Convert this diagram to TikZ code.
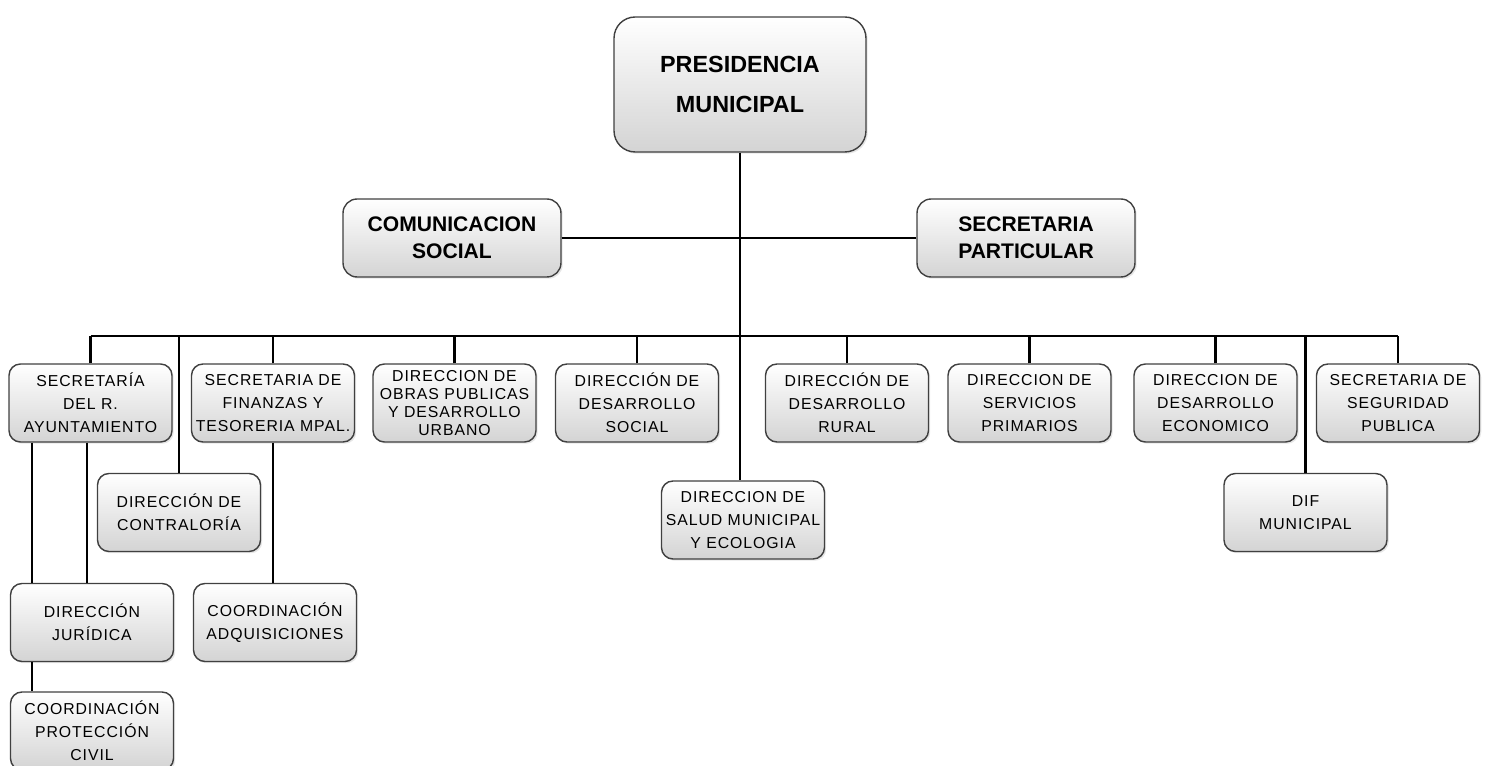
\documentclass[tikz,border=0pt]{standalone}
\usepackage{fontspec}
\setmainfont{Liberation Sans}
\newfontfamily\orgfont{Liberation Sans}[LetterSpace=6]
\usetikzlibrary{shadows,positioning}

\begin{document}
\begin{tikzpicture}[x=0.02cm,y=-0.02cm,
  unit/.style={draw=black!75,line width=0.8pt,rounded corners=6.5pt,
    top color=white,bottom color=black!17,
    drop shadow={shadow xshift=1pt,shadow yshift=-1pt,opacity=0.2},
    align=center,inner sep=1pt,minimum width=3.26cm,minimum height=1.56cm,
    font=\orgfont\fontsize{9}{13}\selectfont},
  head/.style={unit,rounded corners=8pt,minimum width=4.36cm,
    font=\bfseries\fontsize{12}{15.4}\selectfont},
  link/.style={line width=1.6pt}]
  \useasboundingbox (0,0) rectangle (1489,766);

  % top levels
  \node[head,minimum width=5.04cm,minimum height=2.7cm,rounded corners=12pt,
    font=\bfseries\fontsize{13.3}{23}\selectfont] (pres) at (740,84.5)
    {PRESIDENCIA\\MUNICIPAL};
  \node[head] (com) at (452,238) {COMUNICACION\\SOCIAL};
  \node[head] (sec) at (1026,238) {SECRETARIA\\PARTICULAR};

  % direcciones
  \node[unit] (sr)  at (90.5,403)  {SECRETARÍA\\DEL R.\\AYUNTAMIENTO};
  \node[unit] (fin) at (273,403)   {SECRETARIA DE\\FINANZAS Y\\TESORERIA MPAL.};
  \node[unit,font=\orgfont\fontsize{9}{10.3}\selectfont] (obr) at (454.5,403)
    {DIRECCION DE\\OBRAS PUBLICAS\\Y DESARROLLO\\URBANO};
  \node[unit] (soc) at (637,403)   {DIRECCIÓN DE\\DESARROLLO\\SOCIAL};
  \node[unit] (rur) at (847,403)   {DIRECCIÓN DE\\DESARROLLO\\RURAL};
  \node[unit] (ser) at (1029.5,403) {DIRECCION DE\\SERVICIOS\\PRIMARIOS};
  \node[unit] (eco) at (1215.5,403) {DIRECCION DE\\DESARROLLO\\ECONOMICO};
  \node[unit] (seg) at (1398,403)  {SECRETARIA DE\\SEGURIDAD\\PUBLICA};

  \node[unit] (con) at (179,512.5)  {DIRECCIÓN DE\\CONTRALORÍA};
  \node[unit] (sal) at (743,520)    {DIRECCION DE\\SALUD MUNICIPAL\\Y ECOLOGIA};
  \node[unit] (dif) at (1305.5,512.5) {DIF\\MUNICIPAL};

  \node[unit] (jur) at (92,622.5)  {DIRECCIÓN\\JURÍDICA};
  \node[unit] (adq) at (275,622.5) {COORDINACIÓN\\ADQUISICIONES};
  \node[unit] (civ) at (92,731)    {COORDINACIÓN\\PROTECCIÓN\\CIVIL};

  % lines
  \coordinate (bus) at (0,336);
  \draw[link] (pres.south) -- (pres.south |- sal.north);
  \draw[link] (com.east) -- (sec.west);
  \draw[link] (sr.north |- bus) -- (seg.north |- bus);
  \foreach \n in {sr,fin,obr,soc,rur,ser,eco,seg,con,dif}
    \draw[link] (\n.north) -- (\n.north |- bus);

  \coordinate (jl) at ([xshift=-1.17cm]sr.south);
  \coordinate (jr) at ([xshift=-0.07cm]sr.south);
  \draw[link] (jl) -- (jl |- jur.north);
  \draw[link] (jr) -- (jr |- jur.north);
  \draw[link] (jl |- jur.south) -- (jl |- civ.north);
  \draw[link] (fin.south) -- (fin.south |- adq.north);
\end{tikzpicture}
\end{document}
